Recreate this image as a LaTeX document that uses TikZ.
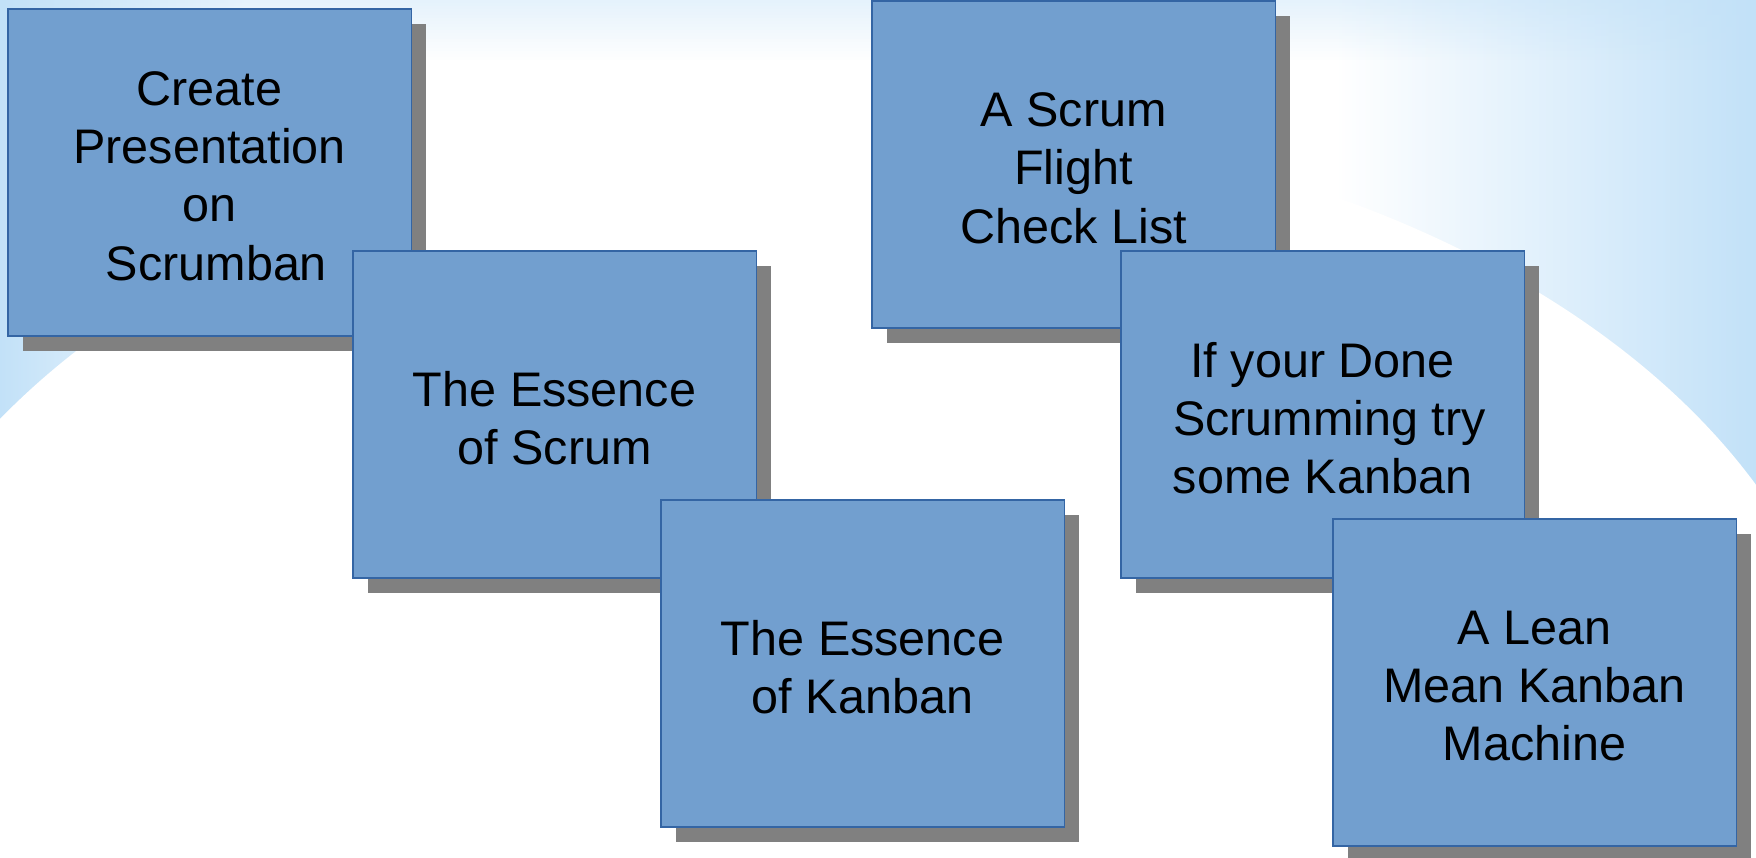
\documentclass[tikz,border=0pt]{standalone}
\usepackage{fontspec}
\setmainfont{Liberation Sans}
\usetikzlibrary{shadows}
\definecolor{bgblue}{HTML}{C2E1F8}
\definecolor{cardfill}{HTML}{729FCF}
\definecolor{cardline}{HTML}{3465A4}
\definecolor{shadowgray}{HTML}{808080}
\pgfdeclarehorizontalshading{bgshade}{100bp}{color(0bp)=(bgblue); color(25bp)=(bgblue); color(32bp)=(white); color(63bp)=(white); color(75bp)=(bgblue); color(100bp)=(bgblue)}
\tikzset{
  card/.style={anchor=north west, rectangle, fill=cardfill, draw=cardline, line width=0.4pt,
    minimum width=4.03cm, minimum height=3.27cm, inner sep=0pt, outer sep=0pt,
    drop shadow={shadow xshift=0.15cm, shadow yshift=-0.15cm, fill=shadowgray, opacity=1, draw=none}},
  cardtext/.style={align=center, inner sep=0pt, text=black,
    font=\fontsize{13.8pt}{16.6pt}\selectfont}
}
\begin{document}
\begin{tikzpicture}[x=0.01cm,y=-0.01cm]
\useasboundingbox (0,0) rectangle (1756,858);
\begin{scope}
  \clip (0,0) rectangle (1756,858);
  \shade[shading=bgshade] (0,0) rectangle (1756,858);
  \foreach \i in {0,...,19}{
    \pgfmathsetmacro{\op}{0.42*(1-\i/20)}
    \fill[bgblue, opacity=\op] (0,{3*\i}) rectangle (1756,{3*\i+3});
  }
  \fill[white] (850,757) ellipse [x radius=10cm, y radius=6.4cm];
\end{scope}
\node[card] (b1) at (8,9) {};
\node[cardtext] (t1) at ([yshift=-1pt]b1.center) {Create\\Presentation\\on\\\hspace*{0.28em}Scrumban};
\node[card] (b2) at (353,251) {};
\node[cardtext] (t2) at ([yshift=-1pt]b2.center) {The Essence\\of Scrum};
\node[card] (b3) at (661,500) {};
\node[cardtext] (t3) at ([yshift=-1pt]b3.center) {The Essence\\of Kanban};
\node[card] (b4) at (872,1) {};
\node[cardtext] (t4) at ([yshift=-1pt]b4.center) {A Scrum\\Flight\hspace*{0.28em}\\Check List};
\node[card] (b5) at (1121,251) {};
\node[cardtext] (t5) at ([yshift=-1pt]b5.center) {If your Done\\\hspace*{0.28em}Scrumming try\\some Kanban};
\node[card] (b6) at (1333,519) {};
\node[cardtext] (t6) at ([yshift=-1pt]b6.center) {A Lean\\Mean Kanban\\Machine};
\end{tikzpicture}
\end{document}
